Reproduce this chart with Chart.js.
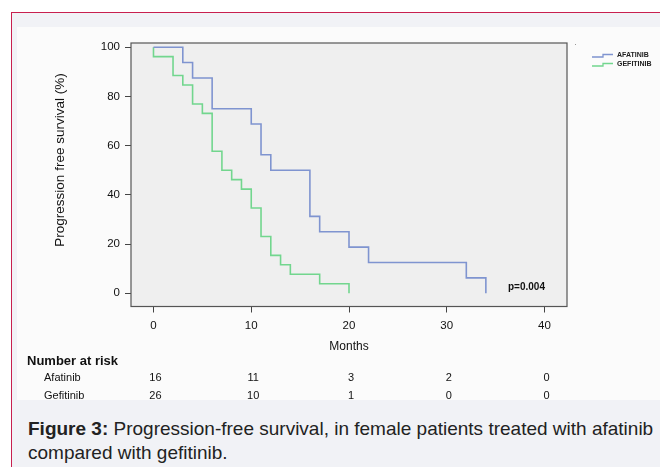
<!DOCTYPE html>
<html>
<head>
<meta charset="utf-8">
<script src="https://cdn.jsdelivr.net/npm/chart.js@4.4.0/dist/chart.umd.min.js"></script>
<style>
  body { margin: 0; background: #fff; width: 660px; height: 467px; overflow: hidden; position: relative;
         font-family: "Liberation Sans", Arial, sans-serif; }
  #frame { position: absolute; left: 11px; top: 12px; width: 660px; height: 470px;
           border-left: 1.5px solid #c8204f; border-top: 1.5px solid #c8204f; background: #f1f2f6; }
  #fig { position: absolute; left: 17px; top: 27px; width: 650px; height: 373px; background: #fbfbfb; }
  #wrap { position: absolute; left: 0; top: 0; width: 660px; height: 400px; }
  #caption { position: absolute; left: 28px; top: 417px; font-size: 19px; line-height: 24px;
             color: #222; white-space: nowrap; }
</style>
</head>
<body>
<div id="frame"></div>
<div id="fig"></div>
<div id="wrap"><canvas id="km" width="660" height="400"></canvas></div>
<div id="caption"><b>Figure 3:</b> Progression-free survival, in female patients treated with afatinib<br>compared with gefitinib.</div>
<script>
// Kaplan-Meier curves (months, % progression free)
const afatinibTimes = [0, 3, 4, 6, 10, 11, 12, 16, 17, 20, 22, 32, 34];
const afatinibSurv = [100, 93.75, 87.5, 75, 68.75, 56.25, 50, 31.25, 25, 18.75, 12.5, 6.25, 0];
const gefitinibTimes = [0, 0, 2, 3, 4, 5, 6, 7, 8, 9, 10, 11, 12, 13, 14, 17, 20];
const gefitinibSurv = [100, 96.15, 88.46, 84.62, 76.92, 73.08, 57.69, 50, 46.15, 42.31, 34.62, 23.08, 15.38, 11.54, 7.69, 3.85, 0];

const xTicks = [0, 10, 20, 30, 40];
const yTicks = [0, 20, 40, 60, 80, 100];

// number at risk table
const riskLabels = ['Afatinib', 'Gefitinib'];
const afatinibRisk = [16, 11, 3, 2, 0];
const gefitinibRisk = [26, 10, 1, 0, 0];

const FONT = '"Liberation Sans", Arial, sans-serif';
const toPoints = (xs, ys) => xs.map((t, i) => ({ x: t, y: ys[i] }));

const kmExtras = {
    id: 'kmExtras',
    beforeDatasetsDraw(chart) {
        const { ctx, chartArea: a } = chart;
        ctx.save();
        ctx.fillStyle = '#efefef';
        ctx.fillRect(a.left, a.top, a.right - a.left, a.bottom - a.top);
        ctx.restore();
    },
    afterDraw(chart) {
        const { ctx, chartArea: a } = chart;
        const xs = chart.scales.x;
        ctx.save();
        // box round the plot
        ctx.strokeStyle = '#555';
        ctx.lineWidth = 1.2;
        ctx.strokeRect(a.left, a.top, a.right - a.left, a.bottom - a.top);

        // y title
        ctx.fillStyle = '#111';
        ctx.font = '13.5px ' + FONT;
        ctx.textAlign = 'center';
        ctx.textBaseline = 'middle';
        ctx.save();
        ctx.translate(60, 160);
        ctx.rotate(-Math.PI / 2);
        ctx.fillText('Progression free survival (%)', 0, 0);
        ctx.restore();

        // p value
        ctx.font = 'bold 10px ' + FONT;
        ctx.textAlign = 'left';
        ctx.fillText('p=0.004', 508, 287);

        // legend with step icons
        ctx.fillStyle = '#999';
        ctx.fillRect(575, 44, 1, 1);
        chart.data.datasets.forEach((ds, i) => {
            const y = 56 + i * 9;
            ctx.strokeStyle = ds.borderColor;
            ctx.lineWidth = 1.3;
            ctx.beginPath();
            ctx.moveTo(592, y + 1);
            ctx.lineTo(603, y + 1);
            ctx.lineTo(603, y - 1.5);
            ctx.lineTo(613, y - 1.5);
            ctx.stroke();
            ctx.fillStyle = '#222';
            ctx.font = 'bold 7px ' + FONT;
            ctx.fillText(ds.label.toUpperCase(), 617, y - 0.5);
        });

        // number at risk
        ctx.fillStyle = '#111';
        ctx.font = 'bold 13px ' + FONT;
        ctx.textAlign = 'left';
        ctx.fillText('Number at risk', 27, 361);
        [afatinibRisk, gefitinibRisk].forEach((row, r) => {
            const y = 378 + r * 18;
            ctx.font = '11px ' + FONT;
            ctx.textAlign = 'left';
            ctx.fillText(riskLabels[r], 44, y);
            ctx.textAlign = 'center';
            row.forEach((n, i) => ctx.fillText(String(n), xs.getPixelForValue(xTicks[i]) + 2, y));
        });
        ctx.restore();
    }
};

new Chart(document.getElementById('km').getContext('2d'), {
    type: 'line',
    data: {
        datasets: [
            { label: 'Afatinib', data: toPoints(afatinibTimes, afatinibSurv), borderColor: '#7f94d0' },
            { label: 'Gefitinib', data: toPoints(gefitinibTimes, gefitinibSurv), borderColor: '#72d68e' }
        ].map(d => Object.assign(d, { stepped: true, borderWidth: 1.6, pointRadius: 0, fill: false }))
    },
    options: {
        responsive: false,
        animation: false,
        layout: { padding: { top: 43, right: 93, left: 0, bottom: 0 } },
        plugins: { legend: { display: false }, tooltip: { enabled: false } },
        scales: {
            x: {
                type: 'linear', min: -2.3, max: 42.3,
                afterBuildTicks: s => { s.ticks = xTicks.map(v => ({ value: v })); },
                afterFit: s => { s.height = 93.5; },
                grid: { drawOnChartArea: false, tickLength: 6, color: '#444' },
                border: { display: false },
                ticks: { color: '#111', font: { size: 11.5, family: FONT }, padding: 6, maxRotation: 0 },
                title: { display: true, text: 'Months', color: '#111', font: { size: 12, family: FONT }, padding: { bottom: 46 } }
            },
            y: {
                min: -5.4, max: 101.7,
                afterBuildTicks: s => { s.ticks = yTicks.map(v => ({ value: v })); },
                afterFit: s => { s.width = 131; },
                grid: { drawOnChartArea: false, tickLength: 6, color: '#444' },
                border: { display: false },
                ticks: { color: '#111', font: { size: 11.5, family: FONT }, padding: 5 }
            }
        }
    },
    plugins: [kmExtras]
});
</script>
</body>
</html>
